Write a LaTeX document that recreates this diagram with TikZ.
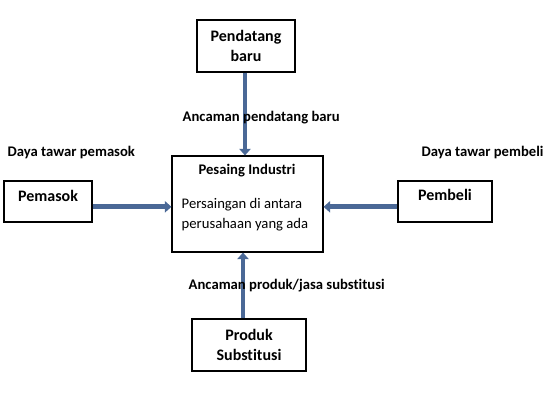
\documentclass[tikz,border=0pt]{standalone}
\usepackage{fontspec}
\setmainfont{Carlito}[Ligatures=NoCommon]
\usepackage{xcolor}
\usetikzlibrary{positioning, calc, arrows.meta}
\definecolor{arrowblue}{RGB}{74,104,150}
\tikzset{
    box/.style={draw, line width=0.8pt, inner sep=0pt},
    boxtext/.style={font=\fontsize{12}{15}\selectfont\bfseries, align=center},
    forcelabel/.style={font=\fontsize{11}{13}\selectfont\bfseries},
    flow/.style={draw=arrowblue, line width=3.6pt, -{Triangle[length=5pt, width=8.5pt]}}
}
\begin{document}
\begin{tikzpicture}[x=0.75pt, y=-0.75pt]

    \useasboundingbox (0,0) rectangle (550,403);

    % Boxes
    \node[box, minimum width=73.5pt, minimum height=39pt, boxtext] (pendatang) at (246,46) {Pendatang\\baru};
    \node[box, minimum width=66pt, minimum height=30.75pt] (pemasok) at (48,201.5) {};
    \node[boxtext] (pemasoktext) at (48,196) {Pemasok};
    \node[box, minimum width=113.25pt, minimum height=72pt] (pesaing) at (247.5,204) {};
    \node[boxtext, font=\fontsize{11}{13}\selectfont\bfseries] (pesaingtitle) at (247,171) {Pesaing Industri};
    \node[align=left, anchor=west, font=\fontsize{11}{15}\selectfont] (pesaingbody) at (177,215) {Persaingan di antara\\perusahaan yang ada};
    \node[box, minimum width=70.5pt, minimum height=30.75pt] (pembeli) at (445,201.5) {};
    \node[boxtext] (pembelitext) at (445,195) {Pembeli};
    \node[box, minimum width=85.5pt, minimum height=39pt, boxtext] (produk) at (249,345) {Produk\\Substitusi};

    % Force arrows
    \draw[flow] ([xshift=-0.75pt]pendatang.south) -- ([xshift=-0.75pt]pendatang.south |- pesaing.north);
    \draw[flow] ([xshift=-4.5pt]produk.north) -- ([xshift=-4.5pt]produk.north |- pesaing.south);
    \draw[flow] ([yshift=-4pt]pemasok.east) -- ([yshift=-4pt]pemasok.east -| pesaing.west);
    \draw[flow] ([yshift=-4pt]pembeli.west) -- ([yshift=-4pt]pembeli.west -| pesaing.east);

    % Labels
    \node[forcelabel, anchor=west] (lblpendatang) at (178,118) {Ancaman pendatang baru};
    \node[forcelabel, anchor=west] (lblpemasok) at (3,153) {Daya tawar pemasok};
    \node[forcelabel, anchor=west] (lblpembeli) at (417,153) {Daya tawar pembeli};
    \node[forcelabel, anchor=west] (lblproduk) at (184,286) {Ancaman produk/jasa substitusi};

\end{tikzpicture}
\end{document}
